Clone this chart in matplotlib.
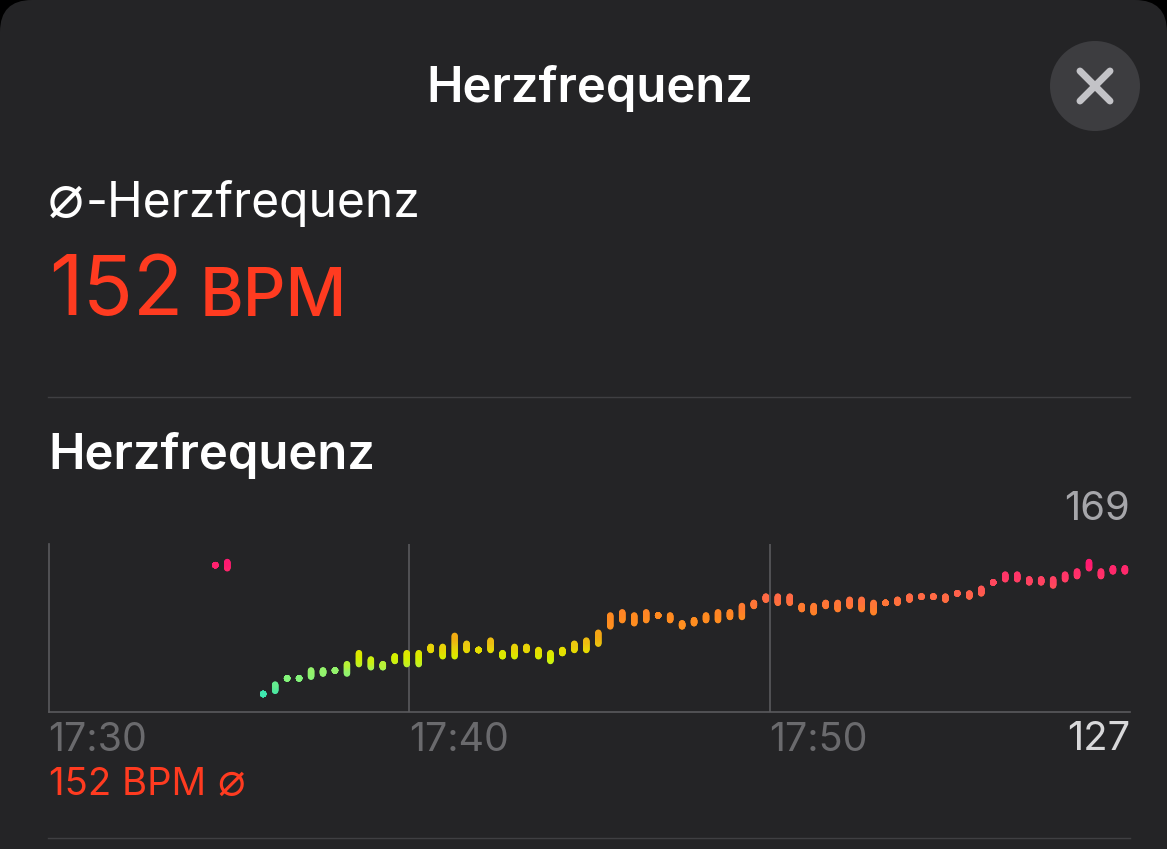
import numpy as np
import matplotlib
matplotlib.use('Agg')
import matplotlib.pyplot as plt
from matplotlib.colors import LinearSegmentedColormap, Normalize
from matplotlib.patches import Circle, FancyBboxPatch

plt.rcParams['font.family'] = ['Inter', 'DejaVu Sans']

# 20 s slots from the first reading on, no readings in slots 2 and 3
slots = [0, 1] + list(range(4, 77))
bpm_low = [168, 167, 127, 128, 132, 132, 132.5, 133.5, 134.5, 133.5, 136.5, 135.5, 135.5, 137.5, 136.5, 136.5,
    141, 139, 139, 141, 141, 141, 139, 139, 141, 139, 137.5, 140, 141, 141, 143, 148.5,
    150.5, 149.5, 150.5, 152, 150.5, 148.5, 149.5, 150.5, 150.5, 151.5, 151.5, 155, 157, 156, 156, 154,
    153, 155, 154, 155, 154, 153, 156, 156, 157, 158, 158, 157, 159, 158, 159, 162.5,
    163.5, 163.5, 162.5, 162.5, 161.5, 163.5, 164.5, 167, 164.5, 166, 166]
bpm_high = [168, 169, 127, 130, 132, 132, 134.5, 134.5, 134.5, 136.5, 140, 138, 136.5, 139, 140, 140,
    142, 142, 145.5, 143, 141, 144, 140, 142, 142, 141, 140, 141, 143, 144, 146.5, 152,
    153, 152, 153, 152, 152, 149.5, 150.5, 152, 153, 153, 155, 156, 158, 158, 158, 155,
    155, 156, 156, 157, 157, 156, 156, 157, 158, 158, 158, 158, 159, 159, 160.5, 162.5,
    165, 165, 163.5, 163.5, 163.5, 165, 166, 169, 166, 167, 167]
time_ticks = [0, 10, 20]
time_labels = ['17:30', '17:40', '17:50']
avg_bpm = 152
y_min_label = 127
y_max_label = 169

# colour by heart rate
color_bpm = [127, 129, 132, 135, 137, 139, 141, 143, 145, 149, 152, 155, 158, 160, 163, 165, 169]
color_hex = ['#3fe8b0', '#55e89a', '#85f57a', '#98f268', '#c4f022', '#d4f000', '#e6de00', '#eac810', '#f0b010',
    '#ff9020', '#ff8a20', '#ff7a30', '#ff6a45', '#ff5a50', '#ff4560', '#ff3568', '#ff1a70']
norm = Normalize(127, 169)
cmap = LinearSegmentedColormap.from_list('hr', [(norm(b), c) for b, c in zip(color_bpm, color_hex)])

W, H = 1167, 849
fig = plt.figure(figsize=(W / 100, H / 100), dpi=100, facecolor='black')

# page background and text, in pixels
ui = fig.add_axes([0, 0, 1, 1])
ui.set_xlim(0, W)
ui.set_ylim(H, 0)
ui.axis('off')
ui.add_patch(FancyBboxPatch((0, 0), W, H + 100, boxstyle='round,pad=0,rounding_size=32', fc='#242426', ec='none'))

ui.text(590, 88, 'Herzfrequenz', color='white', fontsize=35.3, fontweight='semibold', ha='center', va='center')
ui.add_patch(Circle((1095, 86), 45, fc='#3d3d40', ec='none'))
ui.plot([1080, 1110], [71, 101], color='#c3c3c7', lw=5, solid_capstyle='round')
ui.plot([1080, 1110], [101, 71], color='#c3c3c7', lw=5, solid_capstyle='round')

# the diameter sign is larger than the fallback font draws it at text size
ui.text(48, 217, '\u2300', color='white', fontsize=43, ha='left', va='baseline')
ui.text(86, 203, '-Herzfrequenz', color='white', fontsize=34.5, ha='left', va='center')
ui.text(49, 315.5, str(avg_bpm), color='#ff3b20', fontsize=59.5, ha='left', va='baseline')
ui.text(200, 315.5, 'BPM', color='#ff3b20', fontsize=48, fontweight='medium', ha='left', va='baseline')
ui.plot([48, 1130], [397, 397], color='#3f3f42', lw=1)
ui.text(48, 455, 'Herzfrequenz', color='white', fontsize=35.3, fontweight='semibold', ha='left', va='center')
ui.text(1130, 510, str(y_max_label), color='#a6a6aa', fontsize=28.8, ha='right', va='center')
ui.text(1130, 739, str(y_min_label), color='#d8d8da', fontsize=28.8, ha='right', va='center')
ui.text(49, 785, '%d BPM' % avg_bpm, color='#ff3b20', fontsize=27.6, ha='left', va='center')
ui.text(217, 795, '\u2300', color='#ff3b20', fontsize=33, ha='left', va='baseline')
ui.plot([48, 1130], [838, 838], color='#3f3f42', lw=1)

# chart
ax = fig.add_axes([48.5 / W, 1 - 712 / H, 1081.5 / W, 168 / H])
ax.patch.set_alpha(0)
ax.set_xlim(0, 30)
ax.set_ylim(121.27, 174.73)
for s in ['top', 'right']:
    ax.spines[s].set_visible(False)
ax.spines['bottom'].set_color('#5a5a5d')
ax.spines['left'].set_color('#5a5a5d')
ax.spines['bottom'].set_linewidth(1.2)
ax.spines['left'].set_linewidth(1.2)
ax.set_yticks([])
ax.set_xticks(time_ticks, time_labels)
ax.tick_params(axis='x', length=0, pad=7, labelsize=28.3, labelcolor='#6a6a6d')
for lab in ax.get_xticklabels():
    lab.set_ha('left')
ax.vlines(time_ticks[1:], 121.27, 174.73, color='#5a5a5d', lw=1.2, zorder=1)

start, step = 4.627, 0.332
times = start + np.array(slots) * step
for t, lo, hi in zip(times, bpm_low, bpm_high):
    # gradient along the bar, round ends come from the overlapping dots
    ys = np.linspace(lo, hi, 16)
    ax.scatter([t] * len(ys), ys, c=ys, cmap=cmap, norm=norm, s=21, linewidths=0, zorder=3, clip_on=False)

fig.savefig('out.png', dpi=100, facecolor='black')
